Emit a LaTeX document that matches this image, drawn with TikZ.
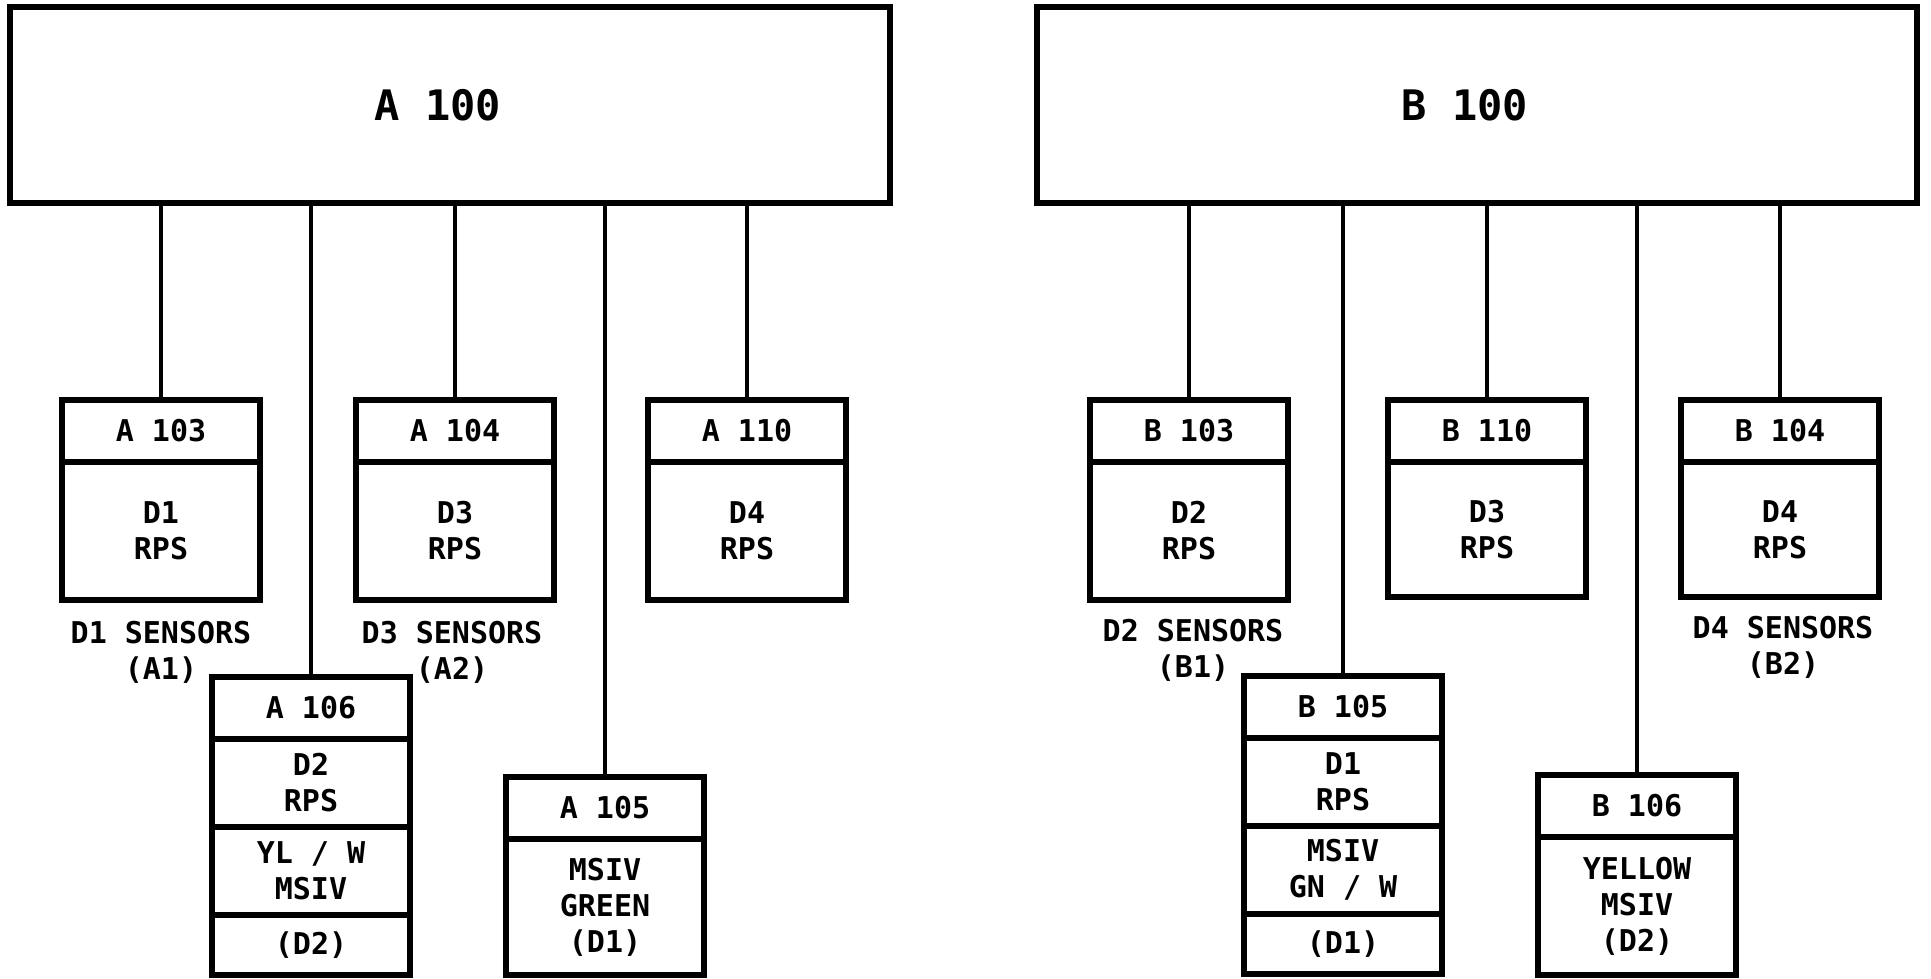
\documentclass[tikz,border=0pt]{standalone}
\usepackage{fontspec}
\setmonofont{DejaVu Sans Mono}
\usetikzlibrary{positioning}

\begin{document}
\begin{tikzpicture}[x=1pt,y=-1pt,font=\ttfamily\bfseries\fontsize{30}{36}\selectfont,
  bus/.style={draw,line width=5.5pt,outer sep=0pt,minimum width=880pt,
              minimum height=196pt,anchor=north west,font=\ttfamily\bfseries\fontsize{42}{50}\selectfont},
  hd/.style={draw,line width=5.5pt,outer sep=0pt,minimum width=198pt,
             minimum height=62pt,anchor=north west,inner sep=0pt},
  bd/.style={draw,line width=5.5pt,outer sep=0pt,minimum width=198pt,
             minimum height=138pt,align=center,inner sep=0pt},
  sec/.style={bd,minimum height=88pt},
  lbl/.style={align=center,inner sep=0pt},
  ln/.style={line width=4pt}]
\useasboundingbox (0,0) rectangle (1931,978);
% A side
\node[bus](A100) at (10,7){A 100\hspace*{24pt}};
\node[hd](A103) at (62,400){A 103};
\node[bd,below=0pt of A103](A103b){D1\\RPS};
\node[hd](A104) at (356,400){A 104};
\node[bd,below=0pt of A104](A104b){D3\\RPS};
\node[hd](A110) at (648,400){A 110};
\node[bd,below=0pt of A110](A110b){D4\\RPS};
\node[lbl](sA1) at (161,652){D1 SENSORS\\(A1)};
\node[lbl](sA2) at (452,652){D3 SENSORS\\(A2)};
\node[hd](A106) at (212,677){A 106};
\node[sec,below=0pt of A106](A106b){D2\\RPS};
\node[sec,below=0pt of A106b](A106c){YL / W\\MSIV};
\node[sec,below=0pt of A106c,minimum height=60pt](A106d){(D2)};
\node[hd](A105) at (506,777){A 105};
\node[bd,below=0pt of A105,minimum height=136pt](A105b){MSIV\\GREEN\\(D1)};
\foreach \u in {A103,A106,A104,A105,A110}
  \draw[ln](\u.north)--(\u.north |- A100.south);
% B side
\node[bus](B100) at (1037,7){B 100\hspace*{24pt}};
\node[hd](B103) at (1090,400){B 103};
\node[bd,below=0pt of B103](B103b){D2\\RPS};
\node[hd](B110) at (1388,400){B 110};
\node[bd,below=0pt of B110,minimum height=135pt](B110b){D3\\RPS};
\node[hd](B104) at (1681,400){B 104};
\node[bd,below=0pt of B104,minimum height=135pt](B104b){D4\\RPS};
\node[lbl](sB1) at (1193,650){D2 SENSORS\\(B1)};
\node[lbl](sB2) at (1783,647){D4 SENSORS\\(B2)};
\node[hd](B105) at (1244,676){B 105};
\node[sec,below=0pt of B105](B105b){D1\\RPS};
\node[sec,below=0pt of B105b](B105c){MSIV\\GN / W};
\node[sec,below=0pt of B105c,minimum height=60pt](B105d){(D1)};
\node[hd](B106) at (1538,775){B 106};
\node[bd,below=0pt of B106,minimum height=138pt](B106b){YELLOW\\MSIV\\(D2)};
\foreach \u in {B103,B105,B110,B106,B104}
  \draw[ln](\u.north)--(\u.north |- B100.south);
\end{tikzpicture}
\end{document}
